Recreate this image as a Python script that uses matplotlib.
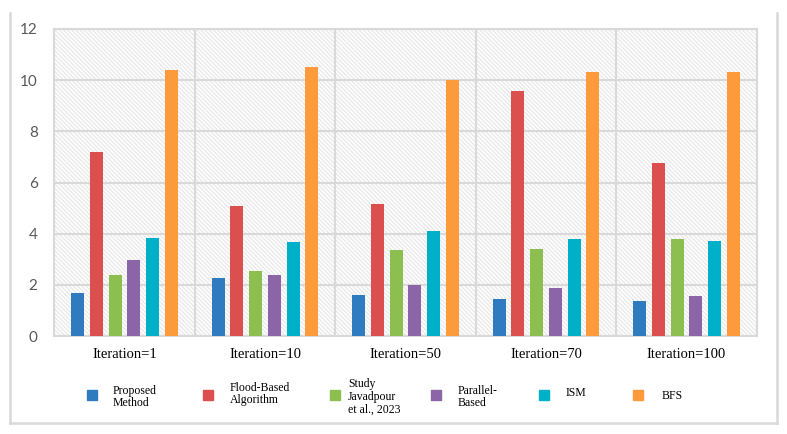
import numpy as np
import matplotlib.pyplot as plt
from matplotlib.patches import Rectangle
from matplotlib.lines import Line2D

categories = ['Iteration=1', 'Iteration=10', 'Iteration=50', 'Iteration=70', 'Iteration=100']
series_names = ['Proposed\nMethod', 'Flood-Based\nAlgorithm', 'Study\nJavadpour\net al., 2023',
                'Parallel-\nBased', 'ISM', 'BFS']
colors = ['#2e7bbf', '#dc4f4f', '#8dbe50', '#8c64a8', '#00b0c8', '#fd9a3b']

proposed = [1.68, 2.27, 1.62, 1.45, 1.37]
flood = [7.21, 5.09, 5.16, 9.56, 6.77]
javadpour = [2.37, 2.54, 3.38, 3.42, 3.81]
parallel = [2.96, 2.40, 1.99, 1.89, 1.58]
ism = [3.85, 3.68, 4.11, 3.81, 3.71]
bfs = [10.41, 10.52, 10.0, 10.32, 10.32]
values = [proposed, flood, javadpour, parallel, ism, bfs]

W, H = 787, 434
fig = plt.figure(figsize=(W / 100, H / 100), dpi=100)
ax = fig.add_axes([54.3 / W, 1 - 336 / H, (756.7 - 54.3) / W, (336 - 29) / H])

plt.rcParams['hatch.linewidth'] = 0.5
ax.patch.set_facecolor('white')
ax.patch.set_edgecolor('#e9e9e9')
ax.patch.set_hatch('\\' * 8)

x = np.arange(len(categories))
step = 0.133
bw = 13 / 140.5
for i, (vals, c) in enumerate(zip(values, colors)):
    ax.bar(x + (i - 2.5) * step, vals, width=bw, color=c, zorder=3)

ax.set_xlim(-0.5, len(categories) - 0.5)
ax.set_ylim(0, 12)
ax.set_yticks(np.arange(0, 13, 2))
ax.set_xticks(x)
ax.set_xticks(np.arange(0.5, len(categories) - 1, 1), minor=True)
ax.set_xticklabels(categories)
ax.tick_params(axis='both', which='both', length=0)
ax.tick_params(axis='y', pad=12)
ax.tick_params(axis='x', pad=9)
for lab in ax.get_xticklabels():
    lab.set_family('Liberation Serif')
    lab.set_fontsize(10.5)
    lab.set_color('black')
for lab in ax.get_yticklabels():
    lab.set_family('Lato')
    lab.set_fontsize(11)
    lab.set_color('#595959')
ax.set_axisbelow(True)
ax.grid(axis='y', color='#d9d9d9', lw=1.5, zorder=1)
ax.grid(axis='x', which='minor', color='#d9d9d9', lw=1.5, zorder=1)
for s in ax.spines.values():
    s.set_color('#d9d9d9')
    s.set_linewidth(1.5)

# outer frame (no top edge)
frame = dict(color='#d9d9d9', lw=1.8, transform=fig.transFigure)
fig.add_artist(Line2D([9.7 / W, 9.7 / W], [1 - 13 / H, 1 - 422.7 / H], **frame))
fig.add_artist(Line2D([776.7 / W, 776.7 / W], [1 - 13 / H, 1 - 422.7 / H], **frame))
fig.add_artist(Line2D([9.7 / W, 776.7 / W], [1 - 422.7 / H, 1 - 422.7 / H], **frame))

# legend
marker_x = [87, 203, 330, 431, 539, 633]
text_x = [113, 230, 348, 458, 566, 662]
text_y = [397, 394, 397, 397, 393, 396]
for name, c, mx, tx, ty in zip(series_names, colors, marker_x, text_x, text_y):
    fig.add_artist(Rectangle((mx / W, 1 - 400 / H), 10 / W, 10 / H, color=c,
                             transform=fig.transFigure))
    fig.text(tx / W, 1 - ty / H, name, family='Liberation Serif', fontsize=8.5,
             va='center', ha='left', linespacing=1.1)

fig.savefig('out.png', dpi=100)
